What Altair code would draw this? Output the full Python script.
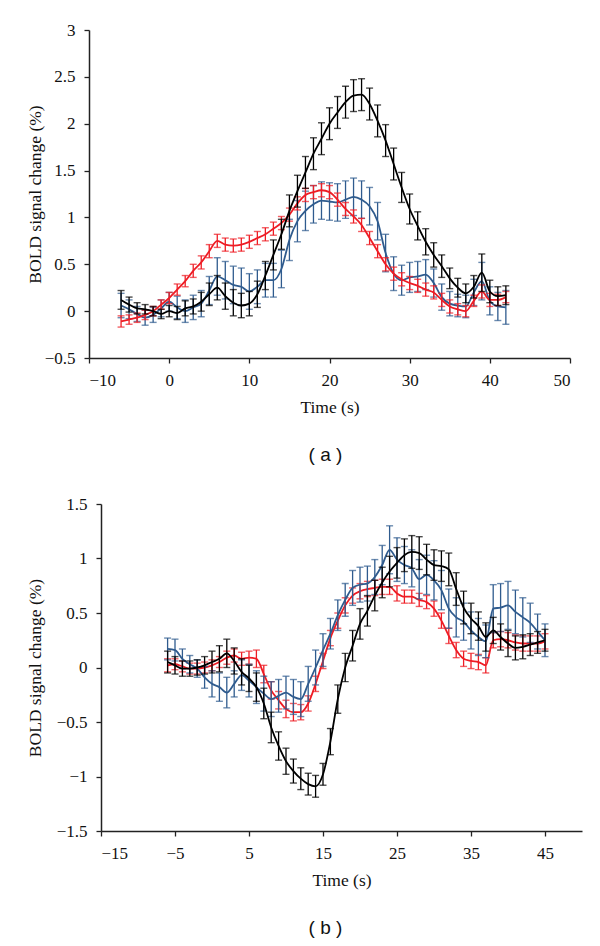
import altair as alt
import pandas as pd

# ---------------- panel (a) ----------------
t_a = list(range(-6, 43))
black_a = [0.12, 0.07, 0.03, 0.02, 0.00, -0.03,
           0.00, -0.02, 0.03, 0.05, 0.10, 0.18, 0.25, 0.16, 0.09, 0.06,
           0.08, 0.18, 0.38, 0.60, 0.82, 1.07, 1.28, 1.48, 1.68, 1.84,
           2.00, 2.12, 2.23, 2.30, 2.31, 2.21, 2.03, 1.82, 1.57, 1.32,
           1.09, 0.91, 0.74, 0.60, 0.48, 0.35, 0.25, 0.19, 0.26, 0.41,
           0.21, 0.16, 0.17]
black_a_err = [0.10, 0.08, 0.06, 0.05, 0.05, 0.05,
               0.06, 0.07, 0.08, 0.08, 0.10, 0.12, 0.13, 0.14, 0.14, 0.13,
               0.13, 0.14, 0.15, 0.16, 0.16, 0.17, 0.17, 0.17, 0.17, 0.17,
               0.17, 0.17, 0.17, 0.17, 0.17, 0.17, 0.17, 0.17, 0.17, 0.16,
               0.16, 0.15, 0.14, 0.13, 0.12, 0.11, 0.10, 0.10, 0.12, 0.20,
               0.12, 0.10, 0.10]
red_a = [-0.11, -0.09, -0.07, -0.04, 0.00, 0.07,
         0.14, 0.23, 0.32, 0.43, 0.52, 0.64, 0.75, 0.71, 0.70, 0.71,
         0.74, 0.78, 0.82, 0.88, 0.94, 1.03, 1.15, 1.24, 1.27, 1.29,
         1.27, 1.19, 1.09, 1.01, 0.92, 0.78, 0.64, 0.50, 0.40, 0.34,
         0.30, 0.27, 0.23, 0.20, 0.12, 0.05, 0.02, 0.00, 0.11, 0.21,
         0.12, 0.12, 0.15]
red_a_err = [0.06, 0.05, 0.05, 0.05, 0.05, 0.05,
             0.06, 0.06, 0.06, 0.07, 0.07, 0.07, 0.07, 0.07, 0.07, 0.07,
             0.07, 0.07, 0.07, 0.07, 0.07, 0.07, 0.07, 0.07, 0.07, 0.07,
             0.07, 0.07, 0.07, 0.07, 0.07, 0.07, 0.07, 0.07, 0.07, 0.07,
             0.07, 0.07, 0.07, 0.07, 0.07, 0.07, 0.06, 0.06, 0.06, 0.07,
             0.07, 0.06, 0.06]
blue_a = [0.06, 0.02, -0.03, -0.07, -0.04, 0.03,
          0.10, 0.04, 0.00, 0.04, 0.08, 0.22, 0.37, 0.33, 0.28, 0.26,
          0.21, 0.26, 0.33, 0.33, 0.45, 0.76, 0.96, 1.07, 1.14, 1.18,
          1.17, 1.16, 1.19, 1.22, 1.19, 1.12, 0.96, 0.62, 0.40, 0.33,
          0.36, 0.37, 0.39, 0.30, 0.15, 0.08, 0.06, 0.05, 0.20, 0.32,
          0.11, 0.05, 0.04]
blue_a_err = [0.13, 0.10, 0.08, 0.08, 0.08, 0.09,
              0.10, 0.12, 0.12, 0.13, 0.14, 0.15, 0.20, 0.20, 0.20, 0.20,
              0.19, 0.18, 0.18, 0.18, 0.20, 0.22, 0.22, 0.21, 0.20, 0.20,
              0.20, 0.20, 0.20, 0.20, 0.20, 0.20, 0.20, 0.20, 0.18, 0.16,
              0.16, 0.16, 0.16, 0.15, 0.14, 0.13, 0.12, 0.12, 0.14, 0.20,
              0.15, 0.15, 0.18]

# ---------------- panel (b) ----------------
t_b = list(range(-6, 46))
black_b = [0.05, 0.02, -0.01, -0.01, 0.00, 0.02,
           0.05, 0.08, 0.13, 0.06, -0.04, -0.10, -0.18, -0.33, -0.55, -0.72,
           -0.86, -0.95, -1.02, -1.07, -1.09, -0.98, -0.68, -0.29, 0.00, 0.20,
           0.40, 0.52, 0.66, 0.78, 0.88, 0.96, 1.03, 1.06, 1.05, 0.99,
           0.94, 0.93, 0.90, 0.72, 0.55, 0.45, 0.38, 0.28, 0.34, 0.28,
           0.22, 0.18, 0.19, 0.21, 0.23, 0.25]
black_b_err = [0.10, 0.08, 0.07, 0.07, 0.07, 0.08,
               0.10, 0.12, 0.13, 0.12, 0.12, 0.12, 0.13, 0.14, 0.14, 0.13,
               0.12, 0.11, 0.10, 0.10, 0.10, 0.10, 0.12, 0.13, 0.13, 0.14,
               0.14, 0.14, 0.14, 0.14, 0.14, 0.14, 0.15, 0.15, 0.15, 0.14,
               0.14, 0.14, 0.15, 0.15, 0.15, 0.14, 0.13, 0.13, 0.12, 0.12,
               0.12, 0.11, 0.11, 0.10, 0.10, 0.10]
red_b = [0.02, 0.03, 0.01, -0.01, -0.01, 0.00,
         0.02, 0.05, 0.09, 0.11, 0.08, 0.09, 0.08, -0.06, -0.21, -0.30,
         -0.38, -0.41, -0.41, -0.33, -0.15, 0.06, 0.27, 0.43, 0.57, 0.66,
         0.70, 0.72, 0.73, 0.74, 0.74, 0.68, 0.65, 0.65, 0.62, 0.60,
         0.54, 0.43, 0.29, 0.16, 0.08, 0.06, 0.05, 0.02, 0.25, 0.26,
         0.25, 0.23, 0.22, 0.22, 0.22, 0.24]
red_b_err = [0.06, 0.05, 0.05, 0.05, 0.05, 0.05,
             0.05, 0.05, 0.06, 0.06, 0.06, 0.06, 0.08, 0.08, 0.08, 0.08,
             0.08, 0.08, 0.07, 0.07, 0.07, 0.07, 0.07, 0.07, 0.07, 0.07,
             0.07, 0.07, 0.07, 0.07, 0.07, 0.07, 0.06, 0.06, 0.06, 0.06,
             0.07, 0.07, 0.07, 0.07, 0.07, 0.07, 0.07, 0.07, 0.07, 0.07,
             0.07, 0.07, 0.07, 0.07, 0.07, 0.07]
blue_b = [0.17, 0.16, 0.08, 0.03, -0.01, -0.09,
          -0.15, -0.18, -0.23, -0.15, -0.07, -0.12, -0.18, -0.24, -0.29, -0.26,
          -0.23, -0.27, -0.29, -0.15, 0.00, 0.16, 0.31, 0.48, 0.62, 0.73,
          0.76, 0.77, 0.83, 0.94, 1.08, 0.99, 0.94, 0.91, 0.81, 0.85,
          0.80, 0.71, 0.54, 0.46, 0.42, 0.34, 0.28, 0.24, 0.54, 0.55,
          0.57, 0.51, 0.46, 0.41, 0.33, 0.25]
blue_b_err = [0.10, 0.10, 0.09, 0.08, 0.08, 0.10,
              0.12, 0.13, 0.14, 0.12, 0.14, 0.15, 0.15, 0.16, 0.16, 0.15,
              0.15, 0.16, 0.16, 0.16, 0.16, 0.15, 0.14, 0.14, 0.15, 0.16,
              0.16, 0.16, 0.16, 0.18, 0.22, 0.20, 0.17, 0.17, 0.18, 0.18,
              0.18, 0.18, 0.18, 0.18, 0.17, 0.17, 0.17, 0.15, 0.22, 0.22,
              0.22, 0.20, 0.18, 0.18, 0.16, 0.15]

x_ticks_a = [-10, 0, 10, 20, 30, 40, 50]
y_ticks_a = [-0.5, 0, 0.5, 1, 1.5, 2, 2.5, 3]
x_ticks_b = [-15, -5, 5, 15, 25, 35, 45]
y_ticks_b = [-1.5, -1, -0.5, 0, 0.5, 1, 1.5]

BLACK = "#000000"
RED = "#ee1c24"
BLUE = "#2f5b8e"

SERIF = "'Liberation Serif', 'Times New Roman', Times, serif"


def panel(t, series, xdom, xticks, ydom, yticks, title_x, caption, w, h,
          shift, cap_dx):
    xscale = alt.Scale(domain=xdom, nice=False, zero=False,
                       range=[shift, w])
    yscale = alt.Scale(domain=ydom, nice=False, zero=False)
    xaxis = alt.Axis(values=xticks, title="Time (s)", format="~f")
    yaxis = alt.Axis(values=yticks, title="BOLD signal change (%)",
                     format="~f", titleX=title_x, offset=-shift)
    layers = []
    for vals, errs, color in series:
        df = pd.DataFrame({"t": t, "v": vals, "e": errs})
        base = alt.Chart(df).transform_calculate(
            lo="datum.v - datum.e", hi="datum.v + datum.e")
        X = alt.X("t:Q", scale=xscale, axis=xaxis)
        rule = base.mark_rule(color=color, strokeWidth=1.3).encode(
            x=X, y=alt.Y("lo:Q", scale=yscale, axis=yaxis), y2="hi:Q")
        cap_lo = base.mark_tick(color=color, orient="horizontal", size=7,
                                thickness=1.4).encode(
            x=X, y=alt.Y("lo:Q", scale=yscale, axis=yaxis))
        cap_hi = base.mark_tick(color=color, orient="horizontal", size=7,
                                thickness=1.4).encode(
            x=X, y=alt.Y("hi:Q", scale=yscale, axis=yaxis))
        line = base.mark_line(color=color, strokeWidth=1.8,
                              interpolate="monotone").encode(
            x=X, y=alt.Y("v:Q", scale=yscale, axis=yaxis))
        layers += [rule, cap_lo, cap_hi, line]
    return alt.layer(*layers).properties(
        width=w, height=h,
        title=alt.TitleParams(caption, orient="bottom", anchor="middle",
                              font="Liberation Sans", fontSize=19,
                              fontWeight="normal", color="#111", offset=30,
                              dx=cap_dx))


pa = panel(t_a,
           [(blue_a, blue_a_err, BLUE), (red_a, red_a_err, RED),
            (black_a, black_a_err, BLACK)],
           [-10, 50], x_ticks_a, [-0.5, 3], y_ticks_a, -45, "( a )", 481, 328,
           0, -4)
pb = panel(t_b,
           [(red_b, red_b_err, RED), (blue_b, blue_b_err, BLUE),
            (black_b, black_b_err, BLACK)],
           [-15, 50], x_ticks_b, [-1.5, 1.5], y_ticks_b, -57, "( b )", 493, 327,
           12, -10)

chart = alt.vconcat(pa, pb, spacing=30).properties(
    padding={"left": 18, "top": 13, "right": 5, "bottom": 0}
).configure_view(stroke=None).configure_axis(
    grid=False, domainColor="#222", domainWidth=1.5, tickColor="#222",
    tickWidth=1.3, tickSize=5, labelPadding=9, titlePadding=10,
    labelFont=SERIF, labelFontSize=17, labelColor="#111",
    titleFont=SERIF, titleFontSize=17.5, titleFontWeight="normal",
    titleColor="#111"
)

chart.save("out.html", embed_options={"renderer": "svg", "actions": False})
